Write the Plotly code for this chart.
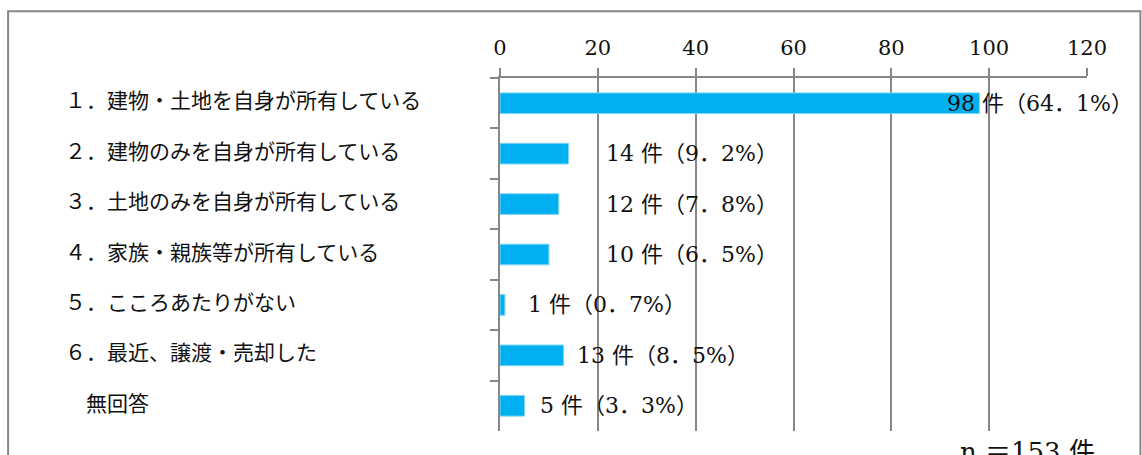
import plotly.graph_objects as go

# Survey responses: ownership of the house / land
categories = [
    "１．建物・土地を自身が所有している",
    "２．建物のみを自身が所有している",
    "３．土地のみを自身が所有している",
    "４．家族・親族等が所有している",
    "５．こころあたりがない",
    "６．最近、譲渡・売却した",
    "　無回答",
]
counts = [98, 14, 12, 10, 1, 13, 5]
percents = ["64．1", "9．2", "7．8", "6．5", "0．7", "8．5", "3．3"]
x_ticks = [0, 20, 40, 60, 80, 100, 120]
total_label = "n ＝153 件"

# Where each value label starts (x in data units)
label_x = [91.0, 21.3, 21.3, 21.3, 5.4, 15.4, 7.8]

GRAY = "#878787"
BLUE = "#00B0F0"
LABEL_FONT = "Noto Sans CJK JP"
NUM_FONT = "DejaVu Serif, Noto Sans CJK JP"

fig = go.Figure(
    go.Bar(
        x=counts,
        y=categories,
        orientation="h",
        width=0.41,
        marker=dict(color=BLUE, line=dict(color="#7fd5f6", width=1)),
        hoverinfo="skip",
    )
)

annotations = []
for cat in categories:
    annotations.append(
        dict(
            x=-0.7445, xref="paper", y=cat, yref="y",
            text=cat, showarrow=False, xanchor="left", yanchor="middle",
            yshift=4, font=dict(family=LABEL_FONT, size=21, color="#111"),
        )
    )
for cat, n, p, lx in zip(categories, counts, percents, label_x):
    annotations.append(
        dict(
            x=lx, xref="x", y=cat, yref="y",
            text=f"{n} 件（{p}%）", showarrow=False,
            xanchor="left", yanchor="middle",
            font=dict(family=NUM_FONT, size=22, color="#111"),
        )
    )
annotations.append(
    dict(
        x=0.78, xref="paper", y=-0.06, yref="paper",
        text=total_label, showarrow=False, xanchor="left", yanchor="middle",
        font=dict(family=NUM_FONT, size=26, color="#111"),
    )
)

# Outer frame around the chart
frame = dict(
    type="rect", xref="paper", yref="paper",
    x0=-0.838, x1=1.091, y0=-0.2, y1=1.189,
    line=dict(color=GRAY, width=2), fillcolor="rgba(0,0,0,0)", layer="below",
)

fig.update_layout(
    width=1142,
    height=455,
    margin=dict(l=500, r=55, t=78, b=24, autoexpand=False),
    paper_bgcolor="white",
    plot_bgcolor="white",
    showlegend=False,
    annotations=annotations,
    shapes=[frame],
    xaxis=dict(
        side="top",
        range=[0, 120],
        tickvals=x_ticks,
        ticktext=[str(v) for v in x_ticks],
        showgrid=True,
        gridcolor=GRAY,
        gridwidth=1.5,
        zeroline=False,
        showline=True,
        linecolor=GRAY,
        linewidth=2,
        ticks="outside",
        ticklen=8,
        tickwidth=2,
        tickcolor=GRAY,
        ticklabelposition="outside",
        ticklabelstandoff=5,
        tickfont=dict(family="DejaVu Serif", size=21, color="#111"),
        fixedrange=True,
    ),
    yaxis=dict(
        categoryorder="array",
        categoryarray=categories,
        range=[6.5, -0.5],
        showticklabels=False,
        showgrid=False,
        zeroline=False,
        showline=True,
        linecolor=GRAY,
        linewidth=2,
        ticks="outside",
        tickson="boundaries",
        ticklen=8,
        tickwidth=2,
        tickcolor=GRAY,
        fixedrange=True,
    ),
)

fig.write_html("out.html")
